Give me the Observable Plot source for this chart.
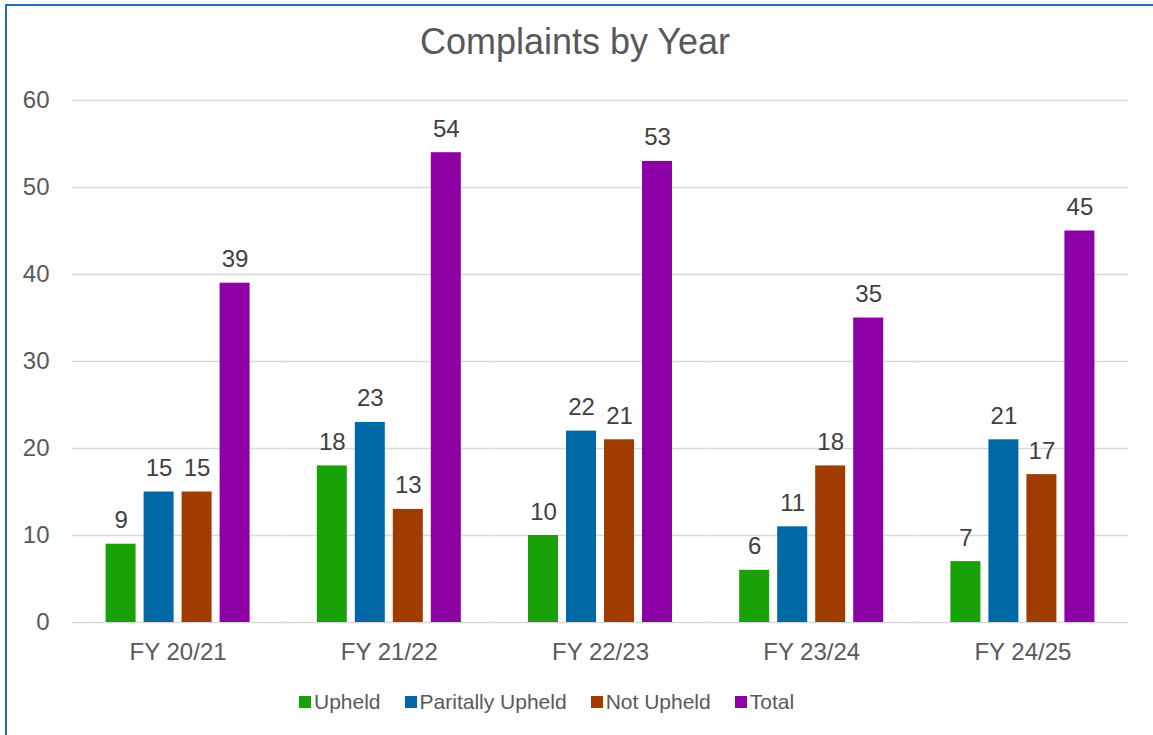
<!DOCTYPE html>
<html>
<head>
<meta charset="utf-8">
<script src="https://cdn.jsdelivr.net/npm/d3@7"></script>
<script src="https://cdn.jsdelivr.net/npm/@observablehq/plot@0.6"></script>
<style>
  html, body { margin: 0; padding: 0; background: #fff; overflow: hidden; }
  body { width: 1153px; height: 735px; position: relative; font-family: "Liberation Sans", Arial, sans-serif; }
  #frame { position: absolute; left: 5px; top: 4px; width: 1200px; height: 800px;
           border-left: 2px solid #1f6fb8; border-top: 2px solid #1f6fb8; box-sizing: border-box; }
  #title { position: absolute; left: 0; width: 1150px; top: 24px; text-align: center;
           font-size: 36px; line-height: 36px; color: #595959; }
  #chart { position: absolute; left: 0; top: 80px; }
  #legend { position: absolute; left: 299px; top: 691px; display: flex; align-items: center;
            font-size: 21px; line-height: 21px; color: #595959; }
  .item { display: flex; align-items: center; margin-right: 24px; }
  .item:last-child { margin-right: 0; }
  .swatch { width: 12px; height: 12px; margin-right: 3px; }
</style>
</head>
<body>
<div id="frame"></div>
<div id="title">Complaints by Year</div>
<div id="chart"></div>
<div id="legend"></div>
<script>
// Complaint outcomes per financial year
const years = ["FY 20/21", "FY 21/22", "FY 22/23", "FY 23/24", "FY 24/25"];
const series = ["Upheld", "Paritally Upheld", "Not Upheld", "Total"];
const upheld = [9, 18, 10, 6, 7];
const partiallyUpheld = [15, 23, 22, 11, 21];
const notUpheld = [15, 13, 21, 18, 17];
const total = [39, 54, 53, 35, 45];
const colors = ["#19a208", "#0068a5", "#a03c00", "#8c00a6"];
const yTicks = [0, 10, 20, 30, 40, 50, 60];

const columns = [upheld, partiallyUpheld, notUpheld, total];
const rows = years.flatMap((year, i) =>
  series.map((name, j) => ({year, series: name, value: columns[j][i]}))
);

const chart = Plot.plot({
  width: 1153,
  height: 600,
  marginTop: 20,
  marginBottom: 58,
  marginLeft: 72,
  marginRight: 25,
  style: {fontFamily: '"Liberation Sans", Arial, sans-serif', fontSize: "24px", color: "#595959", background: "transparent"},
  fx: {domain: years, padding: 0, round: false, label: null, axis: "bottom", tickSize: 0, tickPadding: 20},
  x: {domain: series, paddingInner: 8 / 38, paddingOuter: 0.884, round: false, axis: null},
  y: {domain: [0, 60], ticks: yTicks, label: null, tickSize: 0, tickPadding: 23},
  color: {domain: series, range: colors},
  marks: [
    Plot.ruleY(yTicks, {stroke: "#d9d9d9", strokeWidth: 1.5}),
    Plot.barY(rows, {fx: "year", x: "series", y: "value", fill: "series"}),
    Plot.text(rows, {fx: "year", x: "series", y: "value", text: d => String(d.value),
      lineAnchor: "bottom", dy: -16, fill: "#404040", fontSize: 24})
  ]
});
document.getElementById("chart").appendChild(chart);

const legend = document.getElementById("legend");
series.forEach((name, i) => {
  const item = document.createElement("div");
  item.className = "item";
  const sw = document.createElement("span");
  sw.className = "swatch";
  sw.style.background = colors[i];
  const label = document.createElement("span");
  label.textContent = name;
  item.appendChild(sw);
  item.appendChild(label);
  legend.appendChild(item);
});
</script>
</body>
</html>
